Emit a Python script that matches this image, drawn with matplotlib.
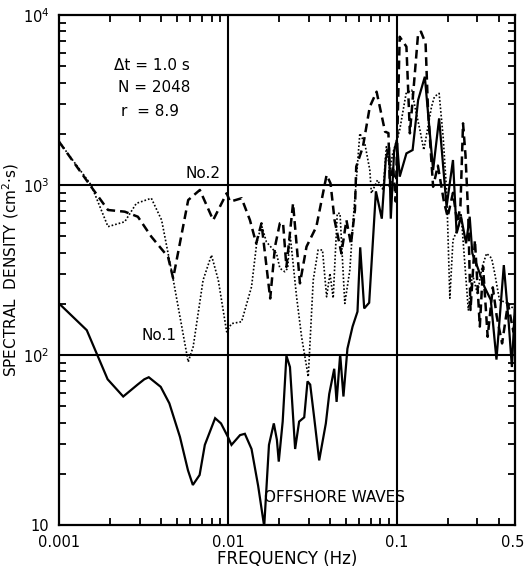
import matplotlib
matplotlib.use('Agg')
import matplotlib.pyplot as plt
from matplotlib.ticker import FixedLocator, FixedFormatter, LogLocator, NullFormatter
from matplotlib.transforms import ScaledTranslation

# offshore waves (solid)
f_off = [0.001, 0.00146, 0.00194, 0.0024, 0.00292, 0.0032, 0.0034, 0.0040, 0.0045, 0.0052,
         0.0058, 0.0062, 0.0068, 0.0073, 0.0084, 0.0091, 0.0100, 0.0105, 0.0118, 0.0126,
         0.0138, 0.0151, 0.0164, 0.0175, 0.0187, 0.0195, 0.0200, 0.0211, 0.0222, 0.0233,
         0.025, 0.0264, 0.0283, 0.0296, 0.0307, 0.0324, 0.0347, 0.038, 0.0398, 0.0426,
         0.044, 0.0462, 0.0483, 0.051, 0.0547, 0.0585, 0.0607, 0.0641, 0.0686, 0.0752,
         0.0815, 0.0861, 0.0901, 0.0921, 0.0964, 0.1, 0.104, 0.114, 0.124, 0.1337,
         0.1465, 0.164, 0.178, 0.197, 0.215, 0.226, 0.24, 0.257, 0.27, 0.28,
         0.30, 0.33, 0.36, 0.389, 0.43, 0.46, 0.48, 0.5]
s_off = [201, 140, 72, 57, 67, 72, 74, 65, 52, 33,
         21, 17.2, 19.7, 29.6, 42.5, 39.6, 33, 29.6, 33.8, 34.4,
         28, 17, 9.8, 29.6, 39.6, 31.7, 23.6, 40.6, 99, 85,
         28, 40.6, 43, 70, 67, 43, 24, 39.6, 59, 83,
         53, 101, 57, 109, 147, 180, 430, 188, 203, 918,
         634, 1435, 1667, 634, 1585, 1840, 1120, 1535, 1606, 3162,
         4335, 1225, 2466, 745, 1403, 520, 651, 454, 651, 396,
         330, 252, 211, 94, 338, 153, 85, 193]

# No.1 (dotted)
f_no1 = [0.001, 0.00155, 0.00195, 0.00245, 0.00287, 0.00352, 0.00405, 0.00475, 0.00582, 0.00623,
         0.00713, 0.00799, 0.00877, 0.00983, 0.0105, 0.01205, 0.0138, 0.0148, 0.0158, 0.0169,
         0.0194, 0.0203, 0.0217, 0.0226, 0.0233, 0.0255, 0.0273, 0.0299, 0.032, 0.0342,
         0.0363, 0.0384, 0.0402, 0.042, 0.0444, 0.0461, 0.0492, 0.0527, 0.055, 0.0604,
         0.0646, 0.0692, 0.0707, 0.0768, 0.083, 0.0867, 0.0909, 0.0946, 0.104, 0.1135,
         0.1225, 0.128, 0.137, 0.1445, 0.1605, 0.167, 0.178, 0.188, 0.1975, 0.206,
         0.215, 0.232, 0.24, 0.265, 0.28, 0.30, 0.32, 0.34, 0.364, 0.38,
         0.405, 0.455, 0.5]
s_no1 = [1800, 1000, 569, 608, 780, 836, 622, 276, 91, 112,
         276, 387, 276, 137, 153, 157, 252, 454, 582, 463,
         396, 324, 309, 324, 520, 220, 128, 74.5, 276, 415,
         415, 220, 302, 216, 681, 681, 201, 316, 595, 2012,
         1760, 1225, 894, 1069, 935, 1680, 1225, 1535, 2108, 3460,
         3620, 2888, 2108, 1606, 2888, 3310, 3460, 1923, 894, 216,
         474, 569, 681, 184, 300, 230, 330, 396, 371, 302,
         211, 201, 184]

# No.2 (dashed)
f_no2 = [0.001, 0.00155, 0.00195, 0.00245, 0.00293, 0.00352, 0.00442, 0.00474, 0.00582, 0.00682,
         0.00818, 0.00983, 0.0103, 0.01205, 0.0135, 0.0147, 0.0158, 0.0178, 0.019, 0.0203,
         0.0212, 0.0222, 0.0243, 0.0267, 0.0292, 0.0334, 0.0384, 0.0405, 0.0428, 0.047,
         0.0503, 0.0535, 0.0565, 0.0575, 0.063, 0.0692, 0.0759, 0.0852, 0.0892, 0.091,
         0.095, 0.0985, 0.104, 0.114, 0.1195, 0.1337, 0.139, 0.148, 0.153, 0.164,
         0.175, 0.19, 0.2, 0.215, 0.228, 0.238, 0.2466, 0.255, 0.265, 0.273,
         0.29, 0.31, 0.324, 0.345, 0.37, 0.39, 0.42, 0.455, 0.49, 0.5]
s_no2 = [1800, 977, 713, 697, 651, 497, 378, 283, 816, 935,
         622, 894, 798, 836, 622, 454, 595, 215, 434, 595,
         600, 330, 780, 264, 434, 569, 1145, 1023, 622, 396,
         622, 450, 713, 1282, 1680, 2888, 3540, 2060, 2020, 977,
         1300, 800, 7450, 6510, 2014, 7800, 7980, 6820, 2760, 977,
         1300, 800, 650, 900, 600, 750, 2306, 1500, 651, 184,
         474, 147, 331, 128, 250, 170, 117, 201, 137, 170]

x_ticks = [0.001, 0.01, 0.1, 0.5]
x_labels = ['0.001', '0.01', '0.1', '0.5']
y_ticks = [10, 100, 1000, 10000]
y_labels = ['10', '$10^2$', '$10^3$', '$10^4$']

plt.rcParams['font.family'] = ['DejaVu Sans']
plt.rcParams['mathtext.default'] = 'regular'

fig = plt.figure(figsize=(5.24, 5.69), dpi=100)
ax = fig.add_axes([0.1126, 0.0773, 0.870, 0.8963])

ax.plot(f_off, s_off, color='black', lw=1.6, solid_joinstyle='miter')
ax.plot(f_no1, s_no1, color='black', lw=1.2, linestyle=(0, (1.0, 1.2)))
ax.plot(f_no2, s_no2, color='black', lw=1.8, linestyle=(0, (3.5, 2.0)))

ax.set_xscale('log')
ax.set_yscale('log')
ax.set_xlim(0.001, 0.5)
ax.set_ylim(10, 10000)

for v in [0.01, 0.1]:
    ax.axvline(v, color='black', lw=1.5)
for v in [100, 1000]:
    ax.axhline(v, color='black', lw=1.5)

ax.xaxis.set_major_locator(FixedLocator(x_ticks))
ax.xaxis.set_major_formatter(FixedFormatter(x_labels))
ax.xaxis.set_minor_locator(LogLocator(base=10, subs=range(2, 10), numticks=20))
ax.xaxis.set_minor_formatter(NullFormatter())
ax.yaxis.set_major_locator(FixedLocator(y_ticks))
ax.yaxis.set_major_formatter(FixedFormatter(y_labels))
ax.yaxis.set_minor_locator(LogLocator(base=10, subs=range(2, 10), numticks=20))
ax.yaxis.set_minor_formatter(NullFormatter())

ax.tick_params(which='both', direction='in', top=True, right=True, width=1.3)
ax.tick_params(which='major', length=0, labelsize=10.5, pad=7)
ax.tick_params(which='minor', length=5)
for sp in ax.spines.values():
    sp.set_linewidth(1.6)

# keep the last x label ("0.5") inside the figure
last = ax.get_xticklabels()[-1]
last.set_horizontalalignment('right')
last.set_transform(last.get_transform() + ScaledTranslation(7 / 72, 0, fig.dpi_scale_trans))

ax.set_xlabel('FREQUENCY (Hz)', fontsize=12, labelpad=0)
ax.set_ylabel('SPECTRAL  DENSITY (cm$^2$·s)', fontsize=11, labelpad=1)

ax.text(0.00212, 5080, 'Δt = 1.0 s', fontsize=11, ha='left', va='center')
ax.text(0.00222, 3730, 'N = 2048', fontsize=11, ha='left', va='center')
ax.text(0.00232, 2690, 'r  = 8.9', fontsize=11, ha='left', va='center')
ax.text(0.0090, 1050, 'No.2', fontsize=11, ha='right', va='bottom')
ax.text(0.0031, 130, 'No.1', fontsize=11, ha='left', va='center')
ax.text(0.0163, 14.5, 'OFFSHORE WAVES', fontsize=11, ha='left', va='center')

fig.savefig('out.png', dpi=100)
